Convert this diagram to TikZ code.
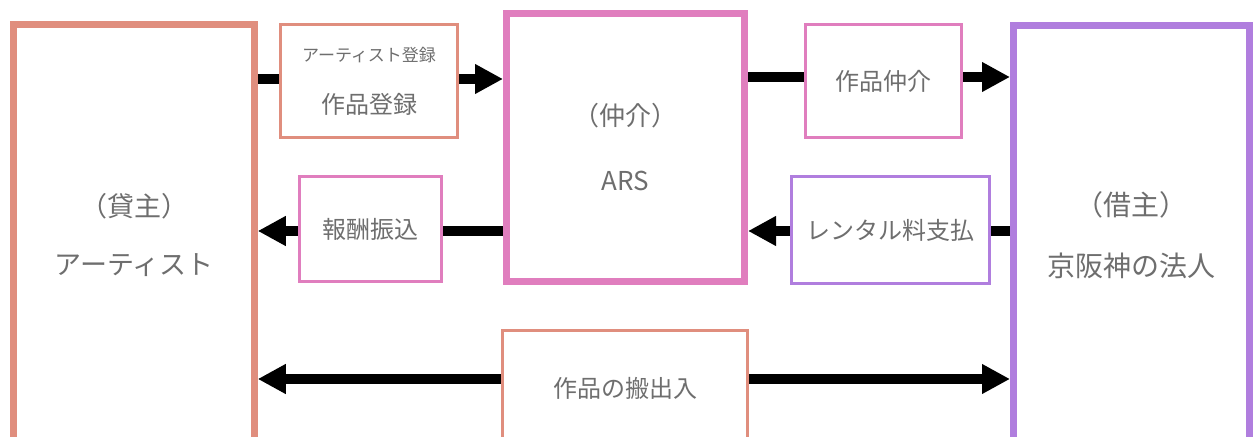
\documentclass[tikz,border=0pt]{standalone}
\usepackage{fontspec}
\setmainfont{Noto Sans CJK JP}
\usetikzlibrary{arrows.meta}
\definecolor{lender}{RGB}{224,142,126}
\definecolor{agent}{RGB}{224,126,190}
\definecolor{borrower}{RGB}{176,126,222}
\definecolor{inkgray}{RGB}{110,110,110}

\begin{document}
\begin{tikzpicture}[x=0.5pt,y=0.5pt,yscale=-1,
  party/.style={draw,line width=3.5pt,fill=white,text=inkgray,align=center,inner sep=0pt},
  tag/.style={draw,line width=1.5pt,fill=white,text=inkgray,align=center,inner sep=0pt,font=\fontsize{12}{14}\selectfont},
  flow/.style={line width=5pt,-{Triangle[length=14pt,width=14pt]}},
  flowboth/.style={line width=5pt,{Triangle[length=14pt,width=14pt]}-{Triangle[length=14pt,width=14pt]}}]
\useasboundingbox (0,0) rectangle (1256,437);
\clip (0,0) rectangle (1256,437);

%Shape: Rectangle [parties]
\node[party,draw=lender,minimum width=120.25pt,minimum height=210pt,font=\fontsize{13.5}{29}\selectfont] (artist) at (134,235) {（貸主）\\アーティスト};
\node[party,draw=agent,minimum width=119pt,minimum height=134pt,font=\fontsize{13}{32.5}\selectfont] (ars) at (625.5,147.5) {（仲介）\\ARS};
\node[party,draw=borrower,minimum width=118pt,minimum height=210pt,font=\fontsize{14}{30.5}\selectfont] (corp) at (1131.5,235.5) {（借主）\\京阪神の法人};

%rows of the arrows
\coordinate (rowA) at (0,79);
\coordinate (rowB) at (0,77);
\coordinate (rowC) at (0,231);
\coordinate (rowD) at (0,379);

%Straight Lines [arrows]
\draw[flow] (artist.east |- rowA) -- (ars.west |- rowA);
\draw[flow] (ars.east |- rowB) -- (corp.west |- rowB);
\draw[flow] (corp.west |- rowC) -- (ars.east |- rowC);
\draw[flow] (ars.west |- rowC) -- (artist.east |- rowC);
\draw[flowboth] (artist.east |- rowD) -- (corp.west |- rowD);

% Text Node [labels on the arrows]
\node[tag,draw=lender,minimum width=88.5pt,minimum height=56.5pt,font=\fontsize{12}{26}\selectfont] (reg) at (369,81) {{\fontsize{8.5}{10}\selectfont アーティスト登録}\\作品登録};
\node[tag,draw=agent,minimum width=78pt,minimum height=56.5pt] (deal) at (883.5,81) {作品仲介};
\node[tag,draw=borrower,minimum width=99pt,minimum height=53.5pt] (rent) at (890.5,230) {レンタル料支払};
\node[tag,draw=agent,minimum width=71pt,minimum height=52.5pt] (pay) at (370.75,229) {報酬振込};
\node[tag,draw=lender,minimum width=122.5pt,minimum height=57.5pt] (carry) at (625,388) {作品の搬出入};

\end{tikzpicture}
\end{document}
